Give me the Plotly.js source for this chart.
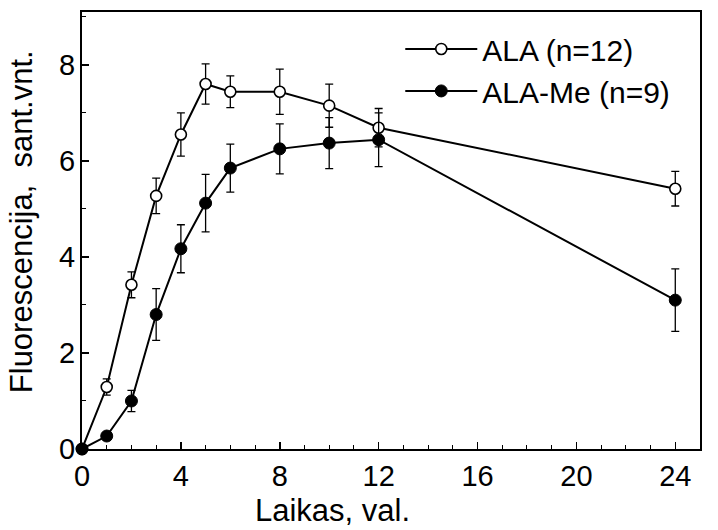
<!DOCTYPE html>
<html>
<head>
<meta charset="utf-8">
<script src="https://cdn.plot.ly/plotly-3.0.1.min.js"></script>
<style>html,body{margin:0;padding:0;background:#fff;}#chart{width:718px;height:530px;}</style>
</head>
<body>
<div id="chart"></div>
<script>
// Time points (hours)
const hours = [0, 1, 2, 3, 4, 5, 6, 8, 10, 12, 24];
// ALA (n=12)
const alaMean = [0, 1.29, 3.42, 5.27, 6.55, 7.6, 7.44, 7.44, 7.15, 6.69, 5.42];
const alaErr  = [0, 0.17, 0.27, 0.37, 0.45, 0.42, 0.33, 0.47, 0.45, 0.40, 0.36];
// ALA-Me (n=9)
const meMean = [0, 0.27, 1.0, 2.8, 4.17, 5.12, 5.85, 6.25, 6.37, 6.44, 3.1];
const meErr  = [0, 0, 0.22, 0.54, 0.5, 0.6, 0.5, 0.52, 0.53, 0.56, 0.65];
const seriesNames = ['ALA (n=12)', 'ALA-Me (n=9)'];
const xTicks = [0, 4, 8, 12, 16, 20, 24];
const yTicks = [0, 2, 4, 6, 8];
const xTitle = 'Laikas, val.';
const yTitle = 'Fluorescencija,  sant.vnt.';

const FONT = '"Liberation Sans", Arial, Helvetica, sans-serif';

const traces = [
  {
    x: hours, y: alaMean, name: seriesNames[0], type: 'scatter', mode: 'lines+markers',
    cliponaxis: false,
    line: {color: '#000', width: 2},
    marker: {symbol: 'circle', size: 11, color: '#fff', line: {color: '#000', width: 1.6}},
    error_y: {type: 'data', array: alaErr, visible: true, color: '#000', thickness: 1.3, width: 4}
  },
  {
    x: hours, y: meMean, name: seriesNames[1], type: 'scatter', mode: 'lines+markers',
    cliponaxis: false,
    line: {color: '#000', width: 2},
    marker: {symbol: 'circle', size: 12, color: '#000', line: {color: '#000', width: 1}},
    error_y: {type: 'data', array: meErr, visible: true, color: '#000', thickness: 1.3, width: 4}
  }
];

const layout = {
  width: 718, height: 530,
  margin: {l: 82, r: 18, t: 12, b: 81, pad: 0},
  paper_bgcolor: '#fff', plot_bgcolor: '#fff',
  font: {family: FONT, color: '#000', size: 29},
  showlegend: true,
  legend: {
    x: 0.515, y: 0.975, xanchor: 'left', yanchor: 'top',
    bgcolor: 'rgba(0,0,0,0)', borderwidth: 0,
    font: {family: FONT, size: 30, color: '#000'},
    itemwidth: 72, tracegroupgap: 0
  },
  xaxis: {
    range: [0, 25], tickvals: xTicks, ticktext: xTicks.map(String),
    ticks: 'inside', ticklen: 7, tickwidth: 1.5, tickcolor: '#000',
    minor: {dtick: 1, tick0: 0, ticks: 'inside', ticklen: 4, tickwidth: 1, tickcolor: '#000'},
    showline: true, linecolor: '#000', linewidth: 2, mirror: true,
    showgrid: false, zeroline: false,
    tickfont: {family: FONT, size: 29, color: '#000'}
  },
  yaxis: {
    range: [0, 9.1], tickvals: yTicks, ticktext: yTicks.map(String),
    ticks: 'inside', ticklen: 7, tickwidth: 1.5, tickcolor: '#000',
    minor: {dtick: 1, tick0: 0, ticks: 'inside', ticklen: 4, tickwidth: 1, tickcolor: '#000'},
    showline: true, linecolor: '#000', linewidth: 2, mirror: true,
    showgrid: false, zeroline: false,
    ticklabelstandoff: -1,
    tickfont: {family: FONT, size: 29, color: '#000'}
  },
  annotations: [
    {
      text: xTitle, xref: 'paper', yref: 'paper', x: 0.405, y: 0,
      xanchor: 'center', yanchor: 'middle', yshift: -61, showarrow: false,
      font: {family: FONT, size: 31, color: '#000'}
    },
    {
      text: yTitle, xref: 'paper', yref: 'paper', x: -0.098, y: 0.52,
      xanchor: 'center', yanchor: 'middle', textangle: -90, showarrow: false,
      font: {family: FONT, size: 31, color: '#000'}
    }
  ]
};

Plotly.newPlot('chart', traces, layout, {displayModeBar: false, staticPlot: true});
</script>
</body>
</html>
